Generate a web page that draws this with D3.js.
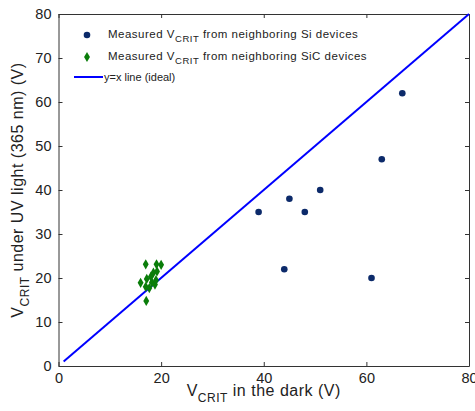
<!DOCTYPE html>
<html>
<head>
<meta charset="utf-8">
<script src="https://cdn.jsdelivr.net/npm/d3@7"></script>
<style>
  body { margin: 0; background: #fff; }
  text { font-family: "Liberation Sans", Arial, sans-serif; fill: #222; }
</style>
</head>
<body>
<div id="chart"></div>
<script>
// V_CRIT under UV light vs in the dark
const width = 475, height = 411, margin = {top: 14, right: 6, bottom: 45, left: 58.5};

const siDark = [39, 45, 44, 48, 51, 61, 63, 67];
const siUV   = [35, 38, 22, 35, 40, 20, 47, 62];
const sicDark = [17, 19.1, 20, 18.5, 19.2, 18, 17.2, 16, 17, 18.2, 18.8, 17.7, 17.1, 19];
const sicUV   = [23.1, 23.1, 23, 21.2, 21.5, 20.3, 19.8, 18.9, 18, 19, 18.5, 17.7, 14.8, 19.5];
const idealX = [1, 80];
const xTicks = [0, 20, 40, 60, 80];
const yTicks = [0, 10, 20, 30, 40, 50, 60, 70, 80];

const svg = d3.select("#chart").append("svg").attr("width", width).attr("height", height);

const x = d3.scaleLinear().domain([0, 80]).range([margin.left, width - margin.right]);
const y = d3.scaleLinear().domain([0, 80]).range([height - margin.bottom, margin.top]);

// box with inward ticks on all sides
const axisColor = "#333";
svg.append("g").attr("transform", `translate(0,${y(0)})`)
  .call(d3.axisBottom(x).tickValues(xTicks).tickSizeInner(-4).tickSizeOuter(0).tickPadding(7))
  .call(g => g.selectAll("text").attr("font-size", 14.5));
svg.append("g").attr("transform", `translate(0,${y(80)})`)
  .call(d3.axisTop(x).tickValues(xTicks).tickSizeInner(-4).tickSizeOuter(0).tickFormat(""));
svg.append("g").attr("transform", `translate(${x(0)},0)`)
  .call(d3.axisLeft(y).tickValues(yTicks).tickSizeInner(-4).tickSizeOuter(0).tickPadding(7))
  .call(g => g.selectAll("text").attr("font-size", 14.5));
svg.append("g").attr("transform", `translate(${x(80)},0)`)
  .call(d3.axisRight(y).tickValues(yTicks).tickSizeInner(-4).tickSizeOuter(0).tickFormat(""));
svg.selectAll(".domain, .tick line").attr("stroke", axisColor);

// y = x line
svg.append("path").datum(idealX).attr("fill", "none").attr("stroke", "#0000ff").attr("stroke-width", 2)
  .attr("d", d3.line().x(d => x(d)).y(d => y(d)));

// Si points
svg.append("g").selectAll("circle").data(siDark).join("circle")
  .attr("cx", d => x(d)).attr("cy", (d, i) => y(siUV[i])).attr("r", 3.3).attr("fill", "#0c2a6a");

// SiC diamonds
const diamond = d3.symbol().type(d3.symbolDiamond).size(30);
svg.append("g").selectAll("path").data(sicDark).join("path")
  .attr("transform", (d, i) => `translate(${x(d)},${y(sicUV[i])})`)
  .attr("d", diamond).attr("fill", "#0a7d0a");

// legend
const lg = svg.append("g").attr("font-size", 11.5);
lg.append("circle").attr("cx", 87).attr("cy", 35).attr("r", 3.3).attr("fill", "#0c2a6a");
lg.append("path").attr("transform", "translate(87,57)").attr("d", diamond).attr("fill", "#0a7d0a");
lg.append("line").attr("x1", 74).attr("x2", 103).attr("y1", 77).attr("y2", 77)
  .attr("stroke", "#0000ff").attr("stroke-width", 2);
const t1 = lg.append("text").attr("x", 108).attr("y", 38).attr("letter-spacing", 0.5);
t1.append("tspan").text("Measured V");
t1.append("tspan").attr("font-size", 9.5).attr("dy", 4).text("CRIT");
t1.append("tspan").attr("dy", -4).text(" from neighboring Si devices");
const t2 = lg.append("text").attr("x", 108).attr("y", 60).attr("letter-spacing", 0.5);
t2.append("tspan").text("Measured V");
t2.append("tspan").attr("font-size", 9.5).attr("dy", 4).text("CRIT");
t2.append("tspan").attr("dy", -4).text(" from neighboring SiC devices");
lg.append("text").attr("x", 104).attr("y", 81).attr("font-size", 11).text("y=x line (ideal)");

// axis titles
const xt = svg.append("text").attr("x", x(40)).attr("y", 396).attr("text-anchor", "middle")
  .attr("font-size", 16).attr("letter-spacing", 0.5);
xt.append("tspan").text("V");
xt.append("tspan").attr("font-size", 12).attr("dy", 6).text("CRIT");
xt.append("tspan").attr("dy", -6).text(" in the dark (V)");

const yt = svg.append("text").attr("transform", `translate(23,${y(40)}) rotate(-90)`)
  .attr("text-anchor", "middle").attr("font-size", 16).attr("letter-spacing", 0.5);
yt.append("tspan").text("V");
yt.append("tspan").attr("font-size", 12).attr("dy", 6).text("CRIT");
yt.append("tspan").attr("dy", -6).text(" under UV light (365 nm) (V)");
</script>
</body>
</html>
